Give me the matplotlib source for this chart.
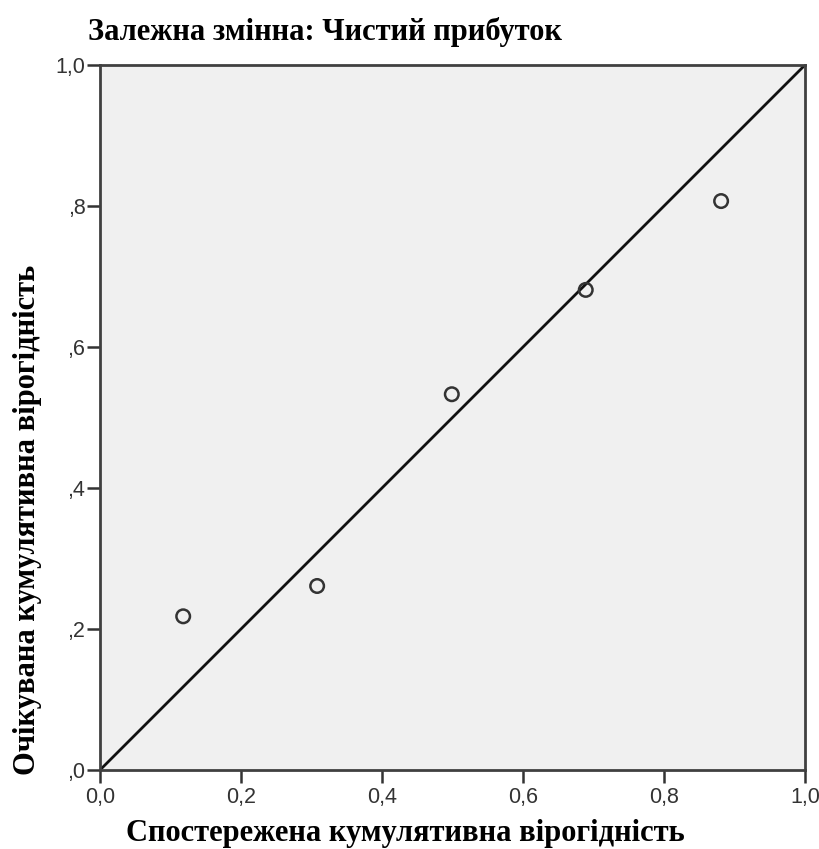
import matplotlib
matplotlib.use("Agg")
import matplotlib.pyplot as plt

observed = [0.118, 0.308, 0.499, 0.689, 0.881]
expected = [0.218, 0.261, 0.533, 0.681, 0.807]
ref_line = [0.0, 1.0]
ticks = [0.0, 0.2, 0.4, 0.6, 0.8, 1.0]
xtick_labels = ["0,0", "0,2", "0,4", "0,6", "0,8", "1,0"]
ytick_labels = [",0", ",2", ",4", ",6", ",8", "1,0"]
title = "Залежна змінна: Чистий прибуток"
xlabel = "Спостережена кумулятивна вірогідність"
ylabel = "Очікувана кумулятивна вірогідність"

W, H = 820, 849
fig = plt.figure(figsize=(W/100, H/100), dpi=100)
ax = fig.add_axes([100/W, 1-770/H, 705/W, 705/H])
ax.set_facecolor("#f0f0f0")
ax.plot(ref_line, ref_line, color="#111111", lw=2.0, solid_capstyle="butt")
ax.scatter(observed, expected, s=95, facecolors="none", edgecolors="#333333", linewidths=1.8, zorder=3)
ax.set_xlim(0, 1)
ax.set_ylim(0, 1)
ax.set_xticks(ticks)
ax.set_yticks(ticks)
ax.set_xticklabels(xtick_labels, fontsize=15.5, family="Liberation Sans", color="#333333")
ax.set_yticklabels(ytick_labels, fontsize=15.5, family="Liberation Sans", color="#333333")
ax.tick_params(axis="x", direction="out", length=9.5, width=1.8, color="#333333", pad=3)
ax.tick_params(axis="y", direction="out", length=9.5, width=1.8, color="#333333", pad=1)
for s in ax.spines.values():
    s.set_linewidth(2.0)
    s.set_color("#404040")

fig.text(88/W, 1-40/H, title, fontsize=22, family="Liberation Serif", weight="bold", ha="left", va="baseline")
fig.text(405/W, 1-833/H, xlabel, fontsize=22, family="Liberation Serif", weight="bold", ha="center", va="center")
fig.text(28/W, 1-520/H, ylabel, fontsize=22, family="Liberation Serif", weight="bold", ha="center", va="center", rotation=90)

fig.savefig("out.png", dpi=100)
